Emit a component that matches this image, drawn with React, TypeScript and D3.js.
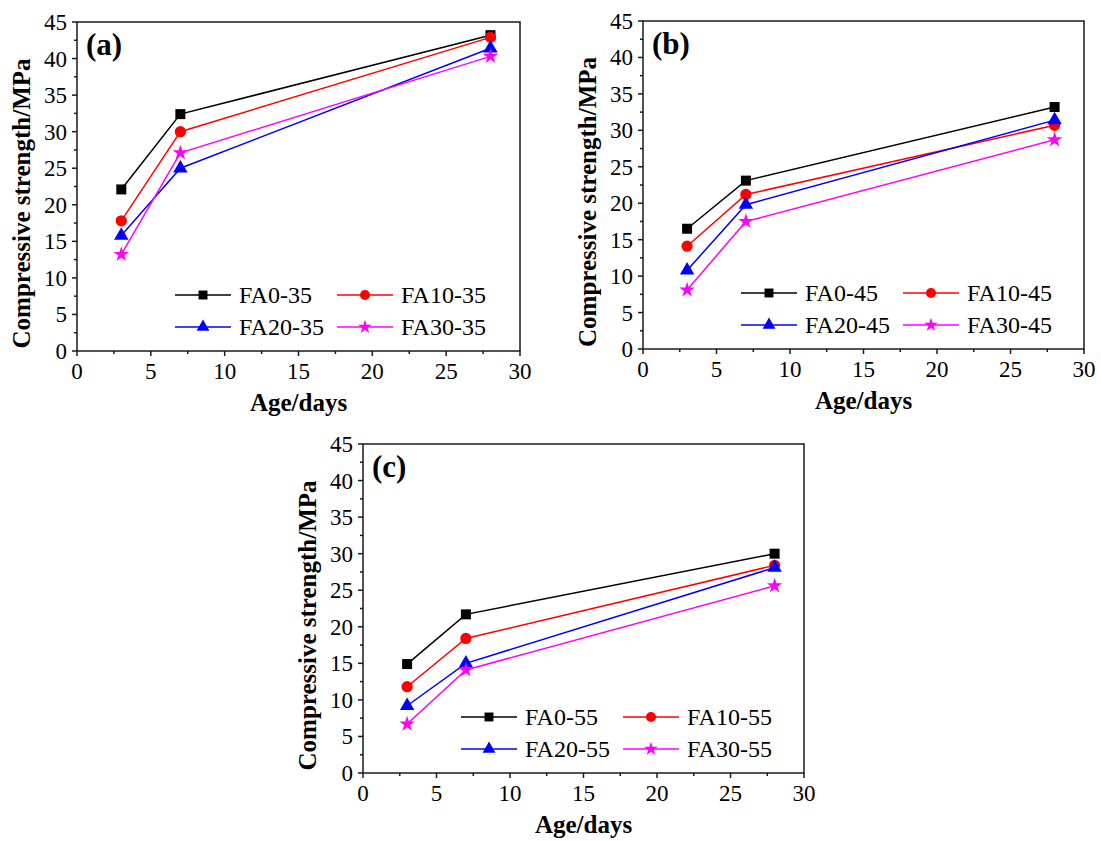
import React from "react";
import * as d3 from "d3";

const ages = [3, 7, 28];
const xTicks = [0, 5, 10, 15, 20, 25, 30];
const yTicks = [0, 5, 10, 15, 20, 25, 30, 35, 40, 45];

const FA0_35 = [22.1, 32.4, 43.2];
const FA10_35 = [17.8, 30.0, 42.9];
const FA20_35 = [15.8, 25.0, 41.4];
const FA30_35 = [13.2, 27.1, 40.3];

const FA0_45 = [16.5, 23.1, 33.2];
const FA10_45 = [14.1, 21.2, 30.7];
const FA20_45 = [10.8, 19.8, 31.4];
const FA30_45 = [8.1, 17.5, 28.7];

const FA0_55 = [14.9, 21.7, 30.0];
const FA10_55 = [11.8, 18.4, 28.4];
const FA20_55 = [9.2, 15.0, 28.1];
const FA30_55 = [6.7, 14.1, 25.6];

const seriesStyle = [
  { color: "#000000", symbol: d3.symbolSquare, size: 100 },
  { color: "#FF0000", symbol: d3.symbolCircle, size: 100 },
  { color: "#0000FF", symbol: d3.symbolTriangle, size: 90 },
  { color: "#FF00FF", symbol: d3.symbolStar, size: 75 },
];

const panels = [
  { label: "(a)", suffix: "35", data: [FA0_35, FA10_35, FA20_35, FA30_35], left: 77, top: 22, width: 443, height: 329 },
  { label: "(b)", suffix: "45", data: [FA0_45, FA10_45, FA20_45, FA30_45], left: 643, top: 21, width: 441, height: 328 },
  { label: "(c)", suffix: "55", data: [FA0_55, FA10_55, FA20_55, FA30_55], left: 363, top: 444, width: 441, height: 329 },
];

const serif = "'Liberation Serif', 'Times New Roman', Times, serif";

function Panel({ p }: { p: any }) {
  const x = d3.scaleLinear().domain([0, 30]).range([p.left, p.left + p.width]);
  const y = d3.scaleLinear().domain([0, 45]).range([p.top + p.height, p.top]);
  const line = d3
    .line<number>()
    .x((_, i) => x(ages[i]))
    .y((d) => y(d));
  const names = ["FA0", "FA10", "FA20", "FA30"].map((n) => `${n}-${p.suffix}`);
  const bottom = p.top + p.height;
  const right = p.left + p.width;
  const xMinor = d3.range(2.5, 30, 5);
  const yMinor = d3.range(2.5, 45, 5);
  const axisColor = "#1a1a1a";
  const legendCols = [p.left + 98, p.left + 260];
  const legendRows = [bottom - 56, bottom - 24];
  return (
    <g>
      <rect x={p.left} y={p.top} width={p.width} height={p.height} fill="none" stroke={axisColor} strokeWidth={1.5} />
      {xTicks.map((t) => (
        <g key={"xt" + t}>
          <line x1={x(t)} x2={x(t)} y1={bottom} y2={bottom + 5} stroke={axisColor} strokeWidth={1.5} />
          <text x={x(t)} y={bottom + 28} fontSize={23} fontFamily={serif} textAnchor="middle" fill="#000">
            {t}
          </text>
        </g>
      ))}
      {xMinor.map((t) => (
        <line key={"xm" + t} x1={x(t)} x2={x(t)} y1={bottom} y2={bottom + 3} stroke={axisColor} strokeWidth={1.5} />
      ))}
      {yTicks.map((t) => (
        <g key={"yt" + t}>
          <line x1={p.left - 5} x2={p.left} y1={y(t)} y2={y(t)} stroke={axisColor} strokeWidth={1.5} />
          <text x={p.left - 10} y={y(t)} dy="0.35em" fontSize={23} fontFamily={serif} textAnchor="end" fill="#000">
            {t}
          </text>
        </g>
      ))}
      {yMinor.map((t) => (
        <line key={"ym" + t} x1={p.left - 3} x2={p.left} y1={y(t)} y2={y(t)} stroke={axisColor} strokeWidth={1.5} />
      ))}
      <text
        x={(p.left + right) / 2}
        y={bottom + 60}
        fontSize={25}
        fontWeight="bold"
        fontFamily={serif}
        textAnchor="middle"
        fill="#000"
      >
        Age/days
      </text>
      <text
        transform={`translate(${p.left - 47}, ${(p.top + bottom) / 2 + 17}) rotate(-90)`}
        fontSize={25}
        fontWeight="bold"
        fontFamily={serif}
        textAnchor="middle"
        fill="#000"
      >
        Compressive strength/MPa
      </text>
      <text x={p.left + 9} y={p.top + 33} fontSize={31} fontWeight="bold" fontFamily={serif} fill="#000">
        {p.label}
      </text>
      {p.data.map((vals: number[], si: number) => {
        const st = seriesStyle[si];
        const sym = d3.symbol().type(st.symbol).size(st.size)();
        return (
          <g key={"s" + si}>
            <path d={line(vals) || ""} fill="none" stroke={st.color} strokeWidth={1.5} />
            {vals.map((v, i) => (
              <path key={i} d={sym || ""} transform={`translate(${x(ages[i])}, ${y(v)})`} fill={st.color} />
            ))}
          </g>
        );
      })}
      {names.map((n, si) => {
        const st = seriesStyle[si];
        const cx = legendCols[si % 2];
        const cy = legendRows[Math.floor(si / 2)];
        const sym = d3.symbol().type(st.symbol).size(st.size * 0.8)();
        return (
          <g key={"l" + si}>
            <line x1={cx} x2={cx + 56} y1={cy} y2={cy} stroke={st.color} strokeWidth={1.5} />
            <path d={sym || ""} transform={`translate(${cx + 28}, ${cy})`} fill={st.color} />
            <text x={cx + 64} y={cy + 8} fontSize={24} fontFamily={serif} fill="#000">
              {n}
            </text>
          </g>
        );
      })}
    </g>
  );
}

export default function App() {
  return (
    <svg
      width={1101}
      height={841}
      viewBox="0 0 1101 841"
      style={{ position: "absolute", left: 0, top: 0, background: "#fff" }}
    >
      <rect x={0} y={0} width={1101} height={841} fill="#fff" />
      {panels.map((p) => (
        <Panel key={p.label} p={p} />
      ))}
    </svg>
  );
}
